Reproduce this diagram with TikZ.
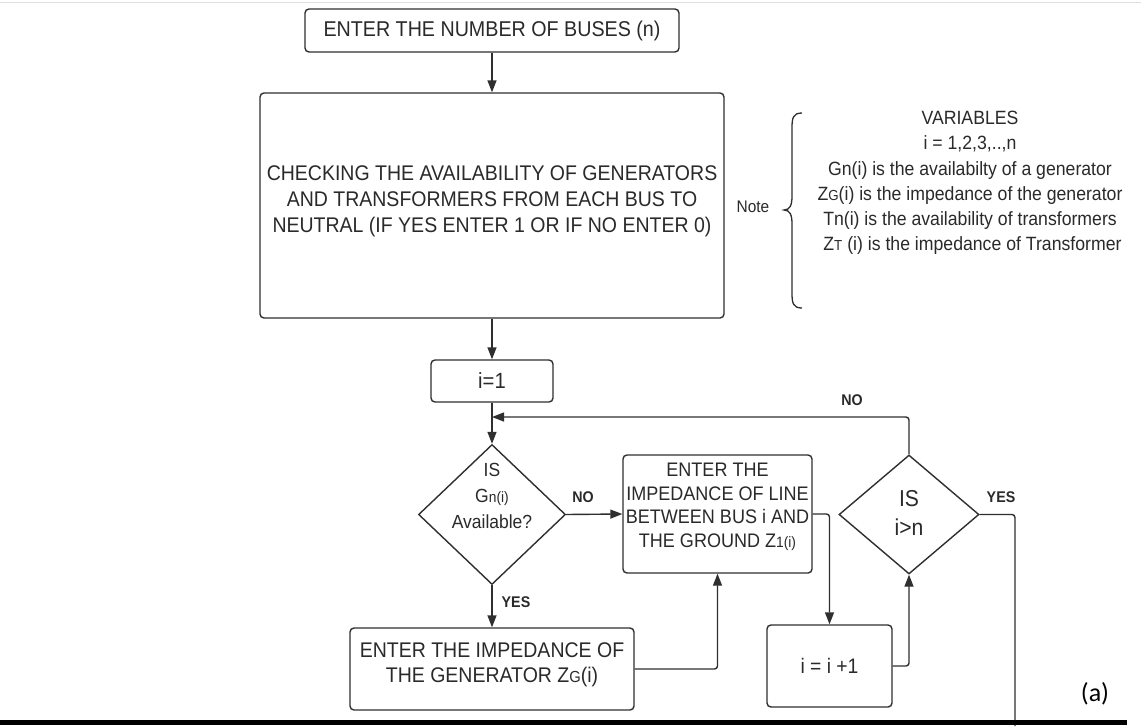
\documentclass[tikz,border=0pt]{standalone}
\usepackage{fontspec}
\setmainfont[FakeStretch=0.92]{Liberation Sans}
\newfontfamily\labelfont{Carlito}
\usetikzlibrary{arrows.meta,shapes.geometric}

\definecolor{linec}{HTML}{2F2F2F}
\definecolor{textc}{HTML}{2A2A2A}

% font size helper and smaller inline part of variable names
\newcommand{\fsz}[2]{\fontsize{#1}{#2}\selectfont}
\newcommand{\smpart}[2][14]{{\fontsize{#1}{#1}\selectfont #2}}

\tikzset{
  procbox/.style={draw=linec, line width=1.4pt, rounded corners=4pt, inner sep=0pt},
  decbox/.style={draw=linec, line width=1.4pt, diamond, inner sep=0pt},
  txt/.style={text=textc, align=center, inner sep=0pt},
  flow/.style={draw=linec, line width=1.4pt, rounded corners=3pt, -{Triangle[length=12pt,width=9pt]}},
  plain/.style={draw=linec, line width=1.4pt, rounded corners=3pt},
  answer/.style={text=textc, inner sep=0pt, font=\bfseries\fsz{15.5}{15.5}}
}

\begin{document}
\begin{tikzpicture}[x=1pt, y=-1pt]
  \useasboundingbox (0,0) rectangle (1141,726);
  \fill[white] (0,0) rectangle (1141,726);
  \draw[gray!25, line width=0.8pt] (0,2) -- (1141,2);

  % boxes
  \node[procbox, minimum width=374pt, minimum height=43pt] (start) at (492,30.5) {};
  \node[txt, font=\fsz{21.4}{24}] (starttxt) at (492,31) {ENTER THE NUMBER OF BUSES (n)};

  \node[procbox, minimum width=464pt, minimum height=225pt] (check) at (492,205.5) {};
  \node[txt, font=\fsz{21.2}{26}] (checktxt) at (492,201) {CHECKING THE AVAILABILITY OF GENERATORS\\AND TRANSFORMERS FROM EACH BUS TO\\NEUTRAL (IF YES ENTER 1 OR IF NO ENTER 0)};

  \node[procbox, minimum width=122pt, minimum height=42pt] (init) at (492,381) {};
  \node[txt, font=\fsz{22}{24}] (inittxt) at (492,381) {i=1};

  \node[decbox, minimum width=147pt, minimum height=140pt] (gcheck) at (492,514.5) {};
  \node[txt, font=\fsz{19}{26}] (gchecktxt) at (492,496) {IS\\G\smpart[15]{n(i)}\\Available?};

  \node[procbox, minimum width=189pt, minimum height=118pt] (zline) at (717.5,514) {};
  \node[txt, font=\fsz{19.6}{23.5}] (zlinetxt) at (717.5,507) {ENTER THE\\IMPEDANCE OF LINE\\BETWEEN BUS i AND\\THE GROUND Z\smpart[15]{1(i)}};

  \node[procbox, minimum width=284pt, minimum height=82pt] (zgen) at (492,669) {};
  \node[txt, font=\fsz{21.2}{25}] (zgentxt) at (492,664.5) {ENTER THE IMPEDANCE OF\\THE GENERATOR Z\smpart[16]{G}(i)};

  \node[procbox, minimum width=125pt, minimum height=82pt] (incr) at (829.5,666) {};
  \node[txt, font=\fsz{21}{24}] (incrtxt) at (829.5,666) {i = i +1};

  \node[decbox, minimum width=140pt, minimum height=119pt] (ncheck) at (909,514.5) {};
  \node[txt, font=\fsz{23}{29}] (nchecktxt) at (909,512.5) {IS\\i>n};

  % note with brace and variable list
  \node[txt, font=\fsz{16.8}{18}] (note) at (753,207) {Note};
  \draw[linec, line width=1.3pt] (802,113) .. controls (793,113) and (792,118) .. (792,128)
    -- (792,196) .. controls (792,205) and (790,210) .. (784,210)
    .. controls (790,210) and (792,215) .. (792,224)
    -- (792,293) .. controls (792,303) and (793,308) .. (802,308);
  \node[txt, font=\fsz{19.2}{25.2}] (vars) at (970,183) {VARIABLES\\i = 1,2,3,..,n\\Gn(i) is the availabilty of a generator\\Z\smpart[14.5]{G}(i) is the impedance of the generator\\Tn(i) is the availability of transformers\\ \ Z\smpart[14.5]{T} (i) is the impedance of Transformer};

  % connectors
  \coordinate (join) at (492,417);
  \coordinate (yesend) at (1015,726);
  \draw[flow] (start.south) -- (check.north);
  \draw[flow] (check.south) -- (init.north);
  \draw[flow] (init.south) -- (gcheck.north);
  \draw[flow] (ncheck.north) |- (join);
  \draw[flow] (gcheck.east) -- (zline.west);
  \draw[flow] (gcheck.south) -- (zgen.north);
  \draw[flow] (zgen.east) -| (zline.south);
  \draw[flow] (zline.east) -| (incr.north);
  \draw[flow] (incr.east) -| (ncheck.south);
  \draw[plain] (ncheck.east) -| (yesend);

  % branch labels
  \node[answer] (no1) at (583,497) {NO};
  \node[answer] (yes1) at (516,602) {YES};
  \node[answer] (no2) at (852,400) {NO};
  \node[answer] (yes2) at (1001,497) {YES};

  % rule and panel tag
  \draw[black, line width=5pt] (0,722) -- (1127,722);
  \node[text=black, inner sep=0pt, font=\labelfont\fsz{26}{26}] (tag) at (1095,694) {(a)};
\end{tikzpicture}
\end{document}
